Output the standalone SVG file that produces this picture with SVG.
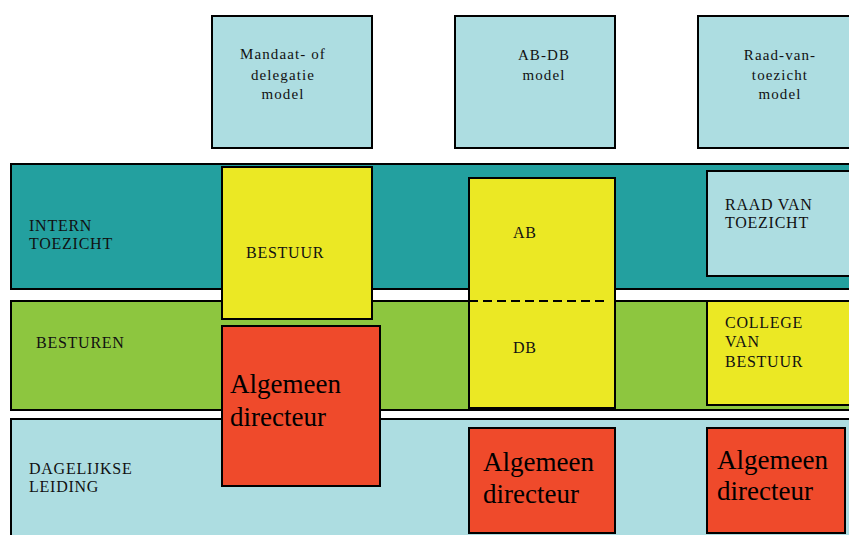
<svg xmlns="http://www.w3.org/2000/svg" width="849" height="535" viewBox="0 0 849 535">
<style>
.bx{stroke:#000;stroke-width:2}
.lb{fill:#000;stroke:#000;stroke-width:1.4}
.t{font-family:"Liberation Serif","Times New Roman",serif;fill:#111}
.top{font-size:15px;letter-spacing:1.1px;text-anchor:middle}
.lab{font-size:16px;letter-spacing:0.75px}
.big{font-size:27px;fill:#000}
.teal{fill:#23A09F}
.green{fill:#8DC63F}
.light{fill:#ADDDE1}
.yellow{fill:#EBE824}
.red{fill:#EF4A2B}
</style>
<rect width="849" height="535" fill="#fff"/>
<g id="band-intern-toezicht">
<rect class="bx teal" x="11" y="164" width="850" height="125"/>
<text class="t lab" x="29" y="231">INTERN</text>
<text class="t lab" x="29" y="249">TOEZICHT</text>
</g>
<g id="band-besturen">
<rect class="bx green" x="11" y="301" width="850" height="109"/>
<text class="t lab" x="36" y="348">BESTUREN</text>
</g>
<g id="band-dagelijkse-leiding">
<rect class="bx light" x="11" y="419" width="850" height="130"/>
<text class="t lab" x="29" y="474">DAGELIJKSE</text>
<text class="t lab" x="29" y="492">LEIDING</text>
</g>
<g id="model-mandaat">
<rect class="bx light" x="212" y="16" width="160" height="132"/>
<text class="t top" x="283" y="59">Mandaat- of</text>
<text class="t top" x="283" y="80">delegatie</text>
<text class="t top" x="283" y="99">model</text>
</g>
<g id="model-abdb">
<rect class="bx light" x="455" y="16" width="160" height="132"/>
<text class="t top" x="544" y="60">AB-DB</text>
<text class="t top" x="544" y="80">model</text>
</g>
<g id="model-rvt">
<rect class="bx light" x="698" y="16" width="160" height="132"/>
<text class="t top" x="780" y="60">Raad-van-</text>
<text class="t top" x="780" y="80">toezicht</text>
<text class="t top" x="780" y="99">model</text>
</g>
<g id="bestuur">
<rect class="bx yellow" x="222" y="167" width="150" height="152"/>
<text class="t lab" x="246" y="258">BESTUUR</text>
</g>
<g id="algemeen-directeur-1">
<rect class="bx red" x="222" y="326" width="158" height="160"/>
<text class="t big" x="230" y="393">Algemeen</text>
<text class="t big" x="230" y="426">directeur</text>
</g>
<g id="ab-db">
<rect class="bx yellow" x="469" y="178" width="146" height="230"/>
<text class="t lab" x="513" y="238">AB</text>
<text class="t lab" x="513" y="353">DB</text>
</g>
<g id="connectors">
<line x1="469" y1="301" x2="606" y2="301" stroke="#000" stroke-width="2" stroke-dasharray="9,5"/>
</g>
<g id="raad-van-toezicht">
<rect class="bx light" x="707" y="171" width="150" height="105"/>
<text class="t lab" x="725" y="210">RAAD VAN</text>
<text class="t lab" x="725" y="228">TOEZICHT</text>
</g>
<g id="college-van-bestuur">
<rect class="bx yellow" x="707" y="301" width="150" height="104"/>
<text class="t lab" x="725" y="328">COLLEGE</text>
<text class="t lab" x="725" y="347">VAN</text>
<text class="t lab" x="725" y="367">BESTUUR</text>
</g>
<g id="algemeen-directeur-2">
<rect class="bx red" x="469" y="428" width="146" height="105"/>
<text class="t big" x="483" y="471">Algemeen</text>
<text class="t big" x="483" y="503">directeur</text>
</g>
<g id="algemeen-directeur-3">
<rect class="bx red" x="707" y="428" width="138" height="105"/>
<text class="t big" x="717" y="469">Algemeen</text>
<text class="t big" x="717" y="500">directeur</text>
</g>
</svg>
